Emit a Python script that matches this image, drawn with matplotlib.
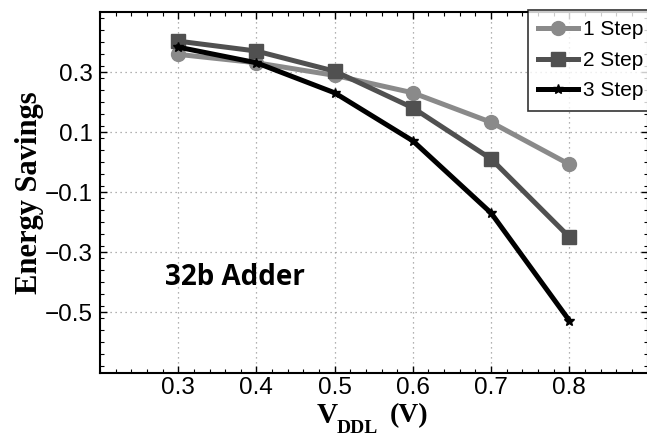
import matplotlib
matplotlib.use("Agg")
import matplotlib.pyplot as plt
from matplotlib.ticker import MultipleLocator

vddl = [0.3, 0.4, 0.5, 0.6, 0.7, 0.8]
step1 = [0.359, 0.331, 0.289, 0.231, 0.133, -0.007]
step2 = [0.403, 0.370, 0.303, 0.181, 0.011, -0.249]
step3 = [0.383, 0.331, 0.231, 0.071, -0.169, -0.527]
labels = ["1 Step", "2 Step", "3 Step"]
xticks = [0.3, 0.4, 0.5, 0.6, 0.7, 0.8]
yticks = [0.3, 0.1, -0.1, -0.3, -0.5]

plt.rcParams['font.family'] = ['Liberation Sans', 'DejaVu Sans']

W, H = 647, 438
fig = plt.figure(figsize=(W / 100, H / 100), dpi=100)
ax = fig.add_axes([100 / W, 1 - 372.5 / H, 547.5 / W, 360.5 / H])

ax.plot(vddl, step1, color='#8a8a8a', lw=3.6, marker='o', ms=10, label=labels[0], zorder=3)
ax.plot(vddl, step2, color='#505050', lw=3.6, marker='s', ms=9.5, label=labels[1], zorder=4)
ax.plot(vddl, step3, color='black', lw=3.6, marker='*', ms=7.5, label=labels[2], zorder=5)

ax.set_xlim(0.2, 0.9)
ax.set_ylim(-0.7, 0.5)
ax.set_xticks(xticks)
ax.set_yticks(yticks)
ax.set_xticklabels(["%.1f" % v for v in xticks])
ax.set_yticklabels([("%.1f" % v).replace('-', '\u2212') for v in yticks])
ax.xaxis.set_minor_locator(MultipleLocator(0.02))
ax.yaxis.set_minor_locator(MultipleLocator(0.04))
ax.tick_params(which='both', direction='in', top=True, right=True, labelsize=17.5)
ax.tick_params(which='major', length=5, width=1, pad=5)
ax.tick_params(axis='x', which='major', pad=3.5)
ax.tick_params(which='minor', length=3, width=0.8)
for s in ax.spines.values():
    s.set_linewidth(1.5)
ax.grid(True, which='major', linestyle=(0, (1, 3)), color='#999999', lw=0.9)

ax.set_ylabel('Energy Savings', family='Liberation Serif', fontweight='bold', fontsize=22, labelpad=1)

# x label: V with subscript DDL, then (V)
serif = dict(family='Liberation Serif', fontweight='bold', va='baseline', ha='left')
fig.text(317 / W, 1 - 423 / H, 'V', fontsize=21, **serif)
fig.text(337 / W, 1 - 433 / H, 'DDL', fontsize=14, **serif)
fig.text(390 / W, 1 - 422 / H, '(V)', fontsize=20, **serif)

ax.text(0.283, -0.384, '32b Adder', family='Open Sans', fontweight='bold', fontsize=20, va='center', ha='left')

leg = ax.legend(loc='upper right', bbox_to_anchor=(1.012, 1.0055), fontsize=15, frameon=True,
                fancybox=False, edgecolor='black', handlelength=1.92, handletextpad=0.25,
                borderpad=0.5, labelspacing=0.55, borderaxespad=0.0)
leg.get_frame().set_linewidth(1.2)

fig.savefig('out.png', dpi=100)
